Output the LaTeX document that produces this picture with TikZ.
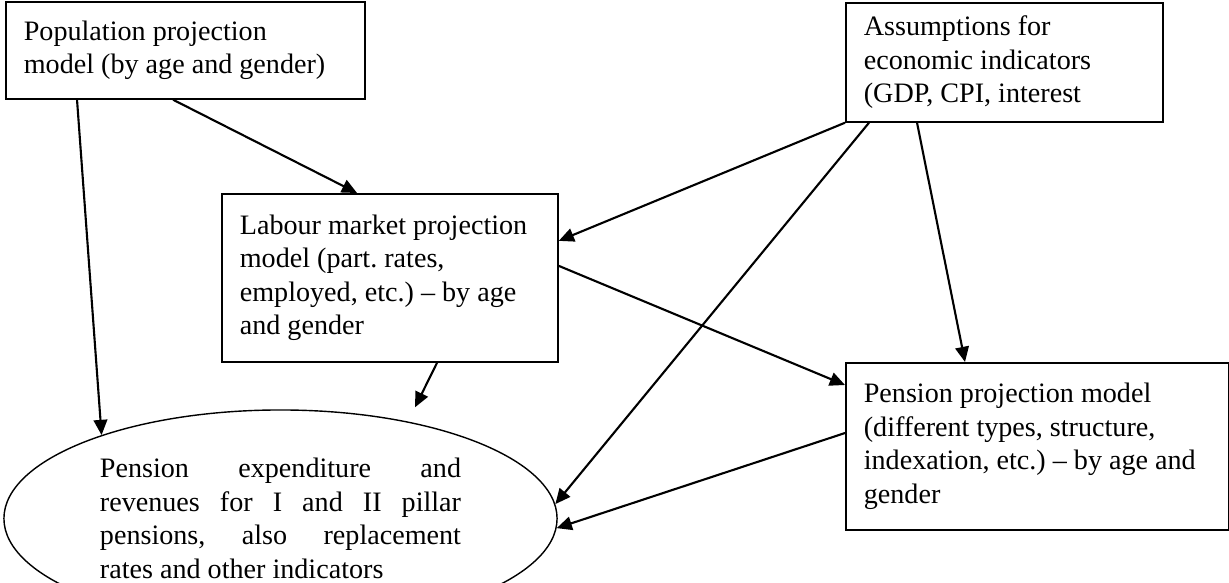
\documentclass[tikz,border=0pt]{standalone}
\usepackage{fontspec}
\setmainfont{Liberation Serif}
\usetikzlibrary{arrows.meta,shapes.geometric}
\frenchspacing

\begin{document}
\begin{tikzpicture}[x=0.025cm,y=-0.025cm,
    >={Triangle[length=0.38cm,width=0.34cm]},
    model/.style={draw, line width=1.2pt, anchor=north west, align=flush left,
      inner xsep=0.45cm, inner ysep=0pt, font=\fontsize{20}{23.8}\selectfont},
    outcome/.style={draw, ellipse, line width=1pt, inner sep=0pt, align=flush left,
      font=\fontsize{20}{23.8}\selectfont},
    link/.style={->, line width=1.5pt}]
  \useasboundingbox (0,0) rectangle (1229,583);

  % model boxes
  \node[model, text width=8.075cm, minimum height=2.425cm] (pop) at (5,1)
    {Population projection\\model (by age and gender)};
  \node[model, text width=7.025cm, minimum height=2.975cm] (assump) at (845,2)
    {Assumptions for\\economic indicators\\(GDP, CPI, interest};
  \node[model, text width=7.5cm, minimum height=4.2cm] (labour) at (221,193)
    {Labour market projection\\model (part. rates,\\employed, etc.) – by age\\and gender};
  \node[model, text width=8.675cm, minimum height=4.175cm] (pension) at (845,362)
    {Pension projection model\\(different types, structure,\\indexation, etc.) – by age and\\gender};

  % results
  \node[outcome, text width=9.025cm, minimum width=13.825cm, minimum height=5.425cm] (result) at (280.5,518.5)
    {\makebox[9.025cm][s]{Pension expenditure and}\\
     \makebox[9.025cm][s]{revenues for I and II pillar}\\
     \makebox[9.025cm][s]{pensions, also replacement}\\
     rates and other indicators};

  \draw[link] ([xshift=4.2cm]pop.south west) -- ([xshift=3.4cm]labour.north west);
  \draw[link] ([xshift=1.8cm]pop.south west) -- (result.155);
  \draw[link] (assump.south west) -- ([yshift=0.925cm]labour.east);
  \draw[link] ([xshift=0.6cm]assump.south west) -- (result.3);
  \draw[link] ([xshift=1.8cm]assump.south west) -- ([xshift=3cm]pension.north west);
  \draw[link] ([yshift=0.3cm]labour.east) -- ([yshift=-0.575cm]pension.north west);
  \draw[link] ([xshift=5.4cm]labour.south west) -- ([xshift=3.3625cm,yshift=0.05cm]result.north);
  \draw[link] ([yshift=-1.775cm]pension.north west) -- (result.-2);
\end{tikzpicture}
\end{document}
